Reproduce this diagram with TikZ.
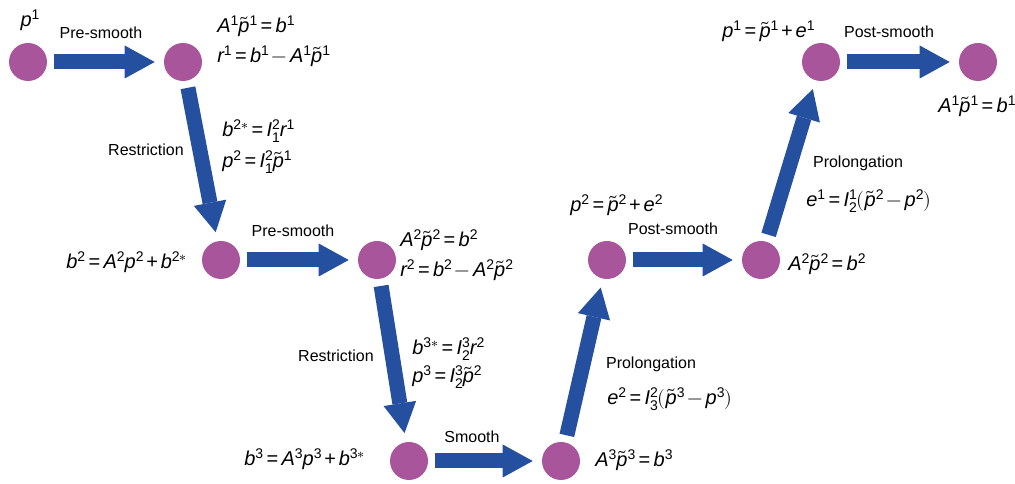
\documentclass[tikz,border=0pt]{standalone}
\usepackage{fontspec}
\usepackage{unicode-math}
\setmainfont{Liberation Sans}
\setmathfont{Latin Modern Math}
\setmathfont{Liberation Sans Italic}[range={it->up}]
\setmathfont{Liberation Sans}[range={up/num}]
\setmathfont{Liberation Sans}[range={"2B,"3D,"2212}]
\usetikzlibrary{arrows.meta}
\definecolor{mgblue}{RGB}{37,80,160}
\definecolor{mgnode}{RGB}{168,85,155}
\newcommand\tighteq{\thickmuskip=3mu\relax\medmuskip=2.5mu\relax
  \scriptspace=0pt\relax}

\begin{document}
\begin{tikzpicture}[x=0.75pt,y=-0.75pt,
  grid/.style={circle,fill=mgnode,inner sep=0pt,minimum size=28.5pt},
  move/.style={draw=mgblue,line width=11.25pt,
    -{Triangle[length=22.5pt,width=24.75pt,line width=0pt]},
    shorten <=5.25pt,shorten >=6.75pt},
  op/.style={font=\fontsize{12}{14}\selectfont,inner sep=0pt,anchor=base},
  eq/.style={font=\fontsize{15}{18}\selectfont\tighteq,
    inner sep=0pt,anchor=base west}]
  \useasboundingbox (0,0) rectangle (1015,484);
  % grid levels: down the V, then back up
  \node[grid] (c1) at (28,62) {};
  \node[grid] (c2) at (183,62) {};
  \node[grid] (c3) at (221,260) {};
  \node[grid] (c4) at (377,260) {};
  \node[grid] (c5) at (409,461) {};
  \node[grid] (c6) at (561,461) {};
  \node[grid] (c7) at (607,260) {};
  \node[grid] (c8) at (761,260) {};
  \node[grid] (c9) at (821,62) {};
  \node[grid] (c10) at (978,62) {};
  \draw[move] (c1) -- (c2);
  \draw[move] (c2) -- (c3);
  \draw[move] (c3) -- (c4);
  \draw[move] (c4) -- (c5);
  \draw[move] (c5) -- (c6);
  \draw[move] (c6) -- (c7);
  \draw[move] (c7) -- (c8);
  \draw[move] (c8) -- (c9);
  \draw[move] (c9) -- (c10);
  % operations
  \node[op] (pre1) at (101,39) {Pre-smooth};
  \node[op] (rest1) at (146,156) {Restriction};
  \node[op] (pre2) at (293,237) {Pre-smooth};
  \node[op] (rest2) at (336,362) {Restriction};
  \node[op] (smooth) at (472,443) {Smooth};
  \node[op] (prol1) at (651,369) {Prolongation};
  \node[op] (post1) at (673,235) {Post-smooth};
  \node[op] (prol2) at (858,168) {Prolongation};
  \node[op] (post2) at (889,38) {Post-smooth};
  % equations
  \node[eq,anchor=base] (p1) at (30,27) {$p^1$};
  \node[eq] (a1) at (217,33) {$A^1\tilde{p}^1=b^1$};
  \node[eq] (r1) at (217,63) {$r^1=b^1-A^1\tilde{p}^1$};
  \node[eq] (b2s) at (222,137) {$b^{2*}=I_1^2r^1$};
  \node[eq] (p2) at (222,168) {$p^2=I_1^2\tilde{p}^1$};
  \node[eq,anchor=base east] (b2) at (187,269) {$b^2=A^2p^2+b^{2*}$};
  \node[eq] (a2) at (400,247) {$A^2\tilde{p}^2=b^2$};
  \node[eq] (r2) at (400,277) {$r^2=b^2-A^2\tilde{p}^2$};
  \node[eq] (b3s) at (412,355) {$b^{3*}=I_2^3r^2$};
  \node[eq] (p3) at (412,383) {$p^3=I_2^3\tilde{p}^2$};
  \node[eq,anchor=base east] (b3) at (365,466) {$b^3=A^3p^3+b^{3*}$};
  \node[eq] (a3) at (595,467) {$A^3\tilde{p}^3=b^3$};
  \node[eq] (e2) at (607,405) {$e^2=I_3^2(\tilde{p}^3-p^3)$};
  \node[eq] (p2u) at (570,212) {$p^2=\tilde{p}^2+e^2$};
  \node[eq] (a2u) at (788,271) {$A^2\tilde{p}^2=b^2$};
  \node[eq] (e1) at (806,207) {$e^1=I_2^1(\tilde{p}^2-p^2)$};
  \node[eq] (p1u) at (722,38) {$p^1=\tilde{p}^1+e^1$};
  \node[eq] (a1u) at (938,113) {$A^1\tilde{p}^1=b^1$};
\end{tikzpicture}
\end{document}
